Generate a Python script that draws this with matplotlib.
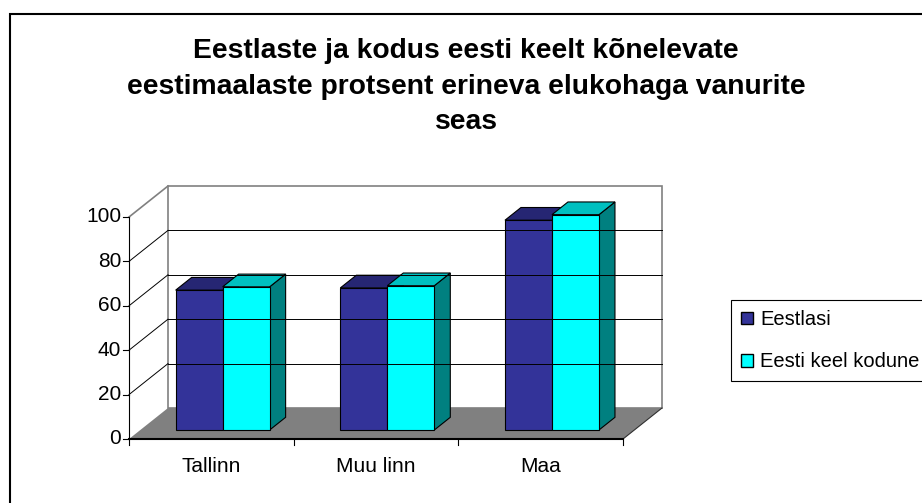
import matplotlib.pyplot as plt
from matplotlib.patches import Polygon, Rectangle, Patch

categories = ["Tallinn", "Muu linn", "Maa"]
eestlasi = [63, 64, 94.5]
kodune = [64.5, 65, 97]
series_names = ["Eestlasi", "Eesti keel kodune"]
yticks = [0, 20, 40, 60, 80, 100]
title = ("Eestlaste ja kodus eesti keelt kõnelevate\n"
         "eestimaalaste protsent erineva elukohaga vanurite\n"
         "seas")

plt.rcParams['font.family'] = ['Liberation Sans', 'DejaVu Sans']

W, H = 922, 503
fig = plt.figure(figsize=(W / 100, H / 100), dpi=100)
ax = fig.add_axes([0, 0, 1, 1])
ax.axis('off')

# front of the 3d box in pixels: x of first/last category edge, y of 0 and 100
x0px, x3px = 129, 623
y0px, y100px = 439, 217
ux = (x3px - x0px) / len(categories)
uy = (y0px - y100px) / 100
ax.set_xlim(-x0px / ux, (W - x0px) / ux)
ax.set_ylim((y0px - H) / uy, y0px / uy)

# depth of the floor, in data units
ddx = 39 / ux
ddy = 31 / uy
n = len(categories)
ymax = yticks[-1]

# back wall + gridlines
ax.add_patch(Rectangle((ddx, ddy), n, ymax, fc='white', ec='#808080', lw=1.2))
for v in yticks[1:-1]:
    ax.plot([ddx, n + ddx], [v + ddy, v + ddy], color='black', lw=0.7)
    ax.plot([0, ddx], [v, v + ddy], color='black', lw=0.7)
ax.plot([0, ddx], [ymax, ymax + ddy], color='#808080', lw=1.2)

# floor
ax.add_patch(Polygon([(0, 0), (n, 0), (n + ddx, ddy), (ddx, ddy)],
                     fc='#808080', ec='none'))
ax.plot([n, n + ddx], [0, ddy], color='#303030', lw=0.8)
ax.plot([0, n], [0, 0], color='black', lw=1.5)

# y axis
ax.plot([0, 0], [0, ymax], color='black', lw=0.8)
for v in yticks:
    ax.plot([-6 / ux, 0], [v, v], color='black', lw=0.8)
    ax.text(-8 / ux, v, str(v), ha='right', va='center', fontsize=15)

# x axis
for i in range(n + 1):
    ax.plot([i, i], [0, -6 / uy], color='black', lw=0.8)
for i, c in enumerate(categories):
    ax.text(i + 0.5, -14.9, c, ha='center', va='baseline', fontsize=15)

# bars
bw = 0.2854
f0, f1 = 0.29, 0.70


def bar3d(xl, h, front, top, side):
    xs = xl + f0 * ddx
    ys = f0 * ddy
    ex = (f1 - f0) * ddx
    ey = (f1 - f0) * ddy
    ax.add_patch(Polygon([(xs + bw, ys), (xs + bw + ex, ys + ey),
                          (xs + bw + ex, ys + ey + h), (xs + bw, ys + h)],
                         fc=side, ec='black', lw=0.8))
    ax.add_patch(Polygon([(xs, ys + h), (xs + bw, ys + h),
                          (xs + bw + ex, ys + h + ey), (xs + ex, ys + h + ey)],
                         fc=top, ec='black', lw=0.8))
    ax.add_patch(Rectangle((xs, ys), bw, h, fc=front, ec='black', lw=0.8))


blue = ('#333399', '#262673', '#1a1a4d')
cyan = ('#00ffff', '#00c0c0', '#008080')
for i in range(n):
    bar3d(i + 0.5 - bw, eestlasi[i], *blue)
    bar3d(i + 0.5, kodune[i], *cyan)

fig.text(466 / W, 1 - 38 / H, title, ha='center', va='top', fontsize=20.3,
         fontweight='bold', linespacing=1.48)

handles = [Patch(fc=blue[0], ec='black'), Patch(fc=cyan[0], ec='black')]
leg = fig.legend(handles, series_names, loc='upper left',
                 bbox_to_anchor=(731 / W, 1 - 300 / H), fontsize=14.5,
                 frameon=True, fancybox=False, edgecolor='black', framealpha=1,
                 handlelength=0.6, handleheight=0.6, handletextpad=0.35,
                 borderaxespad=0, borderpad=0.5, labelspacing=1.15)
leg.get_frame().set_linewidth(0.8)

# outer chart border (right and bottom fall outside the picture)
fig.add_artist(Rectangle((10 / W, -0.5), 2, 1 - 14 / H + 0.5,
                         transform=fig.transFigure, fill=False, ec='black', lw=1.5))

fig.savefig('out.png', dpi=100)
